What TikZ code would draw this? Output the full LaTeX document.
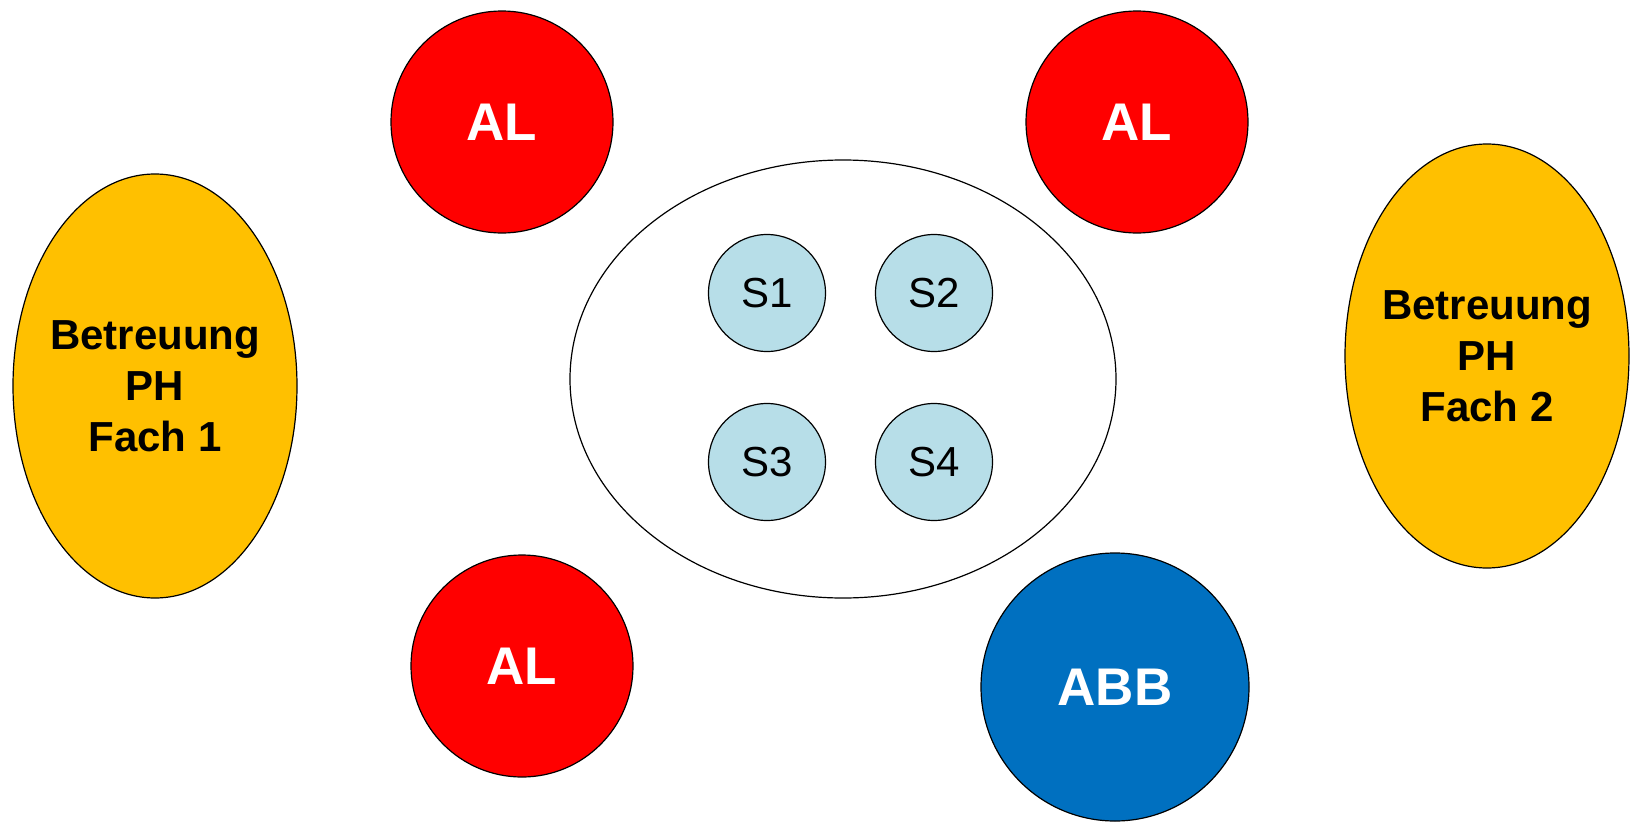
\documentclass[tikz,border=0pt]{standalone}
\usepackage{fontspec}
\setmainfont{Liberation Sans}
\usetikzlibrary{shapes.geometric}

\definecolor{alred}{HTML}{FF0000}
\definecolor{phgold}{HTML}{FFC000}
\definecolor{abbblue}{HTML}{0070C0}
\definecolor{stud}{HTML}{B7DEE8}

\tikzset{
  alcircle/.style={circle, draw=black, line width=1.2pt, fill=alred, minimum size=222pt, inner sep=0pt,
    text=white, font=\fontsize{53}{60}\selectfont\bfseries},
  phoval/.style={ellipse, draw=black, line width=1.2pt, fill=phgold, minimum width=284pt, minimum height=424pt,
    inner sep=0pt},
  phtext/.style={align=center, font=\fontsize{42}{51}\selectfont\bfseries},
  studcircle/.style={circle, draw=black, line width=1.2pt, fill=stud, minimum size=117pt, inner sep=0pt,
    font=\fontsize{42}{48}\selectfont}
}

\begin{document}
\begin{tikzpicture}[x=1pt, y=-1pt]
\useasboundingbox (0,0) rectangle (1631,822);

% Praktikumsgruppe
\node[ellipse, draw=black, line width=1.2pt, minimum width=546pt, minimum height=438pt] (gruppe) at (843,379) {};
\node[studcircle] (s1) at (767,293) {S1};
\node[studcircle] (s2) at (934,293) {S2};
\node[studcircle] (s3) at (767,462) {S3};
\node[studcircle] (s4) at (934,462) {S4};

% Ausbildungslehrkraefte
\node[alcircle] (al1) at (502,122) {AL};
\node[alcircle] (al2) at (1137,122) {AL};
\node[alcircle] (al3) at (522,666) {AL};
\node[alcircle, fill=abbblue, minimum size=268pt] (abb) at (1115,687) {ABB};

% Betreuung PH
\node[phoval] (ph1) at (155,386) {};
\node[phtext] (ph1text) at (ph1.center) {Betreuung\\PH\\Fach 1};
\node[phoval] (ph2) at (1487,356) {};
\node[phtext] (ph2text) at (ph2.center) {Betreuung\\PH\\Fach 2};

\end{tikzpicture}
\end{document}
